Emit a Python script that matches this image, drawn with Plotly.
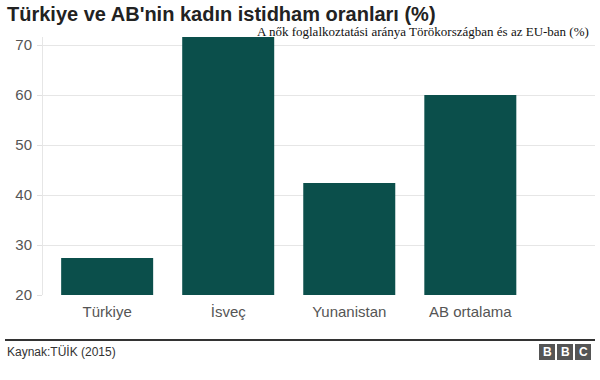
import plotly.graph_objects as go

categories = ["Türkiye", "İsveç", "Yunanistan", "AB ortalama"]
values = [27.4, 71.6, 42.4, 60.0]
y_ticks = [20, 30, 40, 50, 60, 70]

W, H = 600, 380
L, R, T, B = 43, 5, 37, 85
pw = W - L - R
ph = H - T - B

def px(x):
    return (x - L) / pw

def py(y):
    return (H - B - y) / ph

fig = go.Figure()
fig.add_trace(go.Bar(
    x=list(range(len(categories))), y=values,
    marker=dict(color="#0b4f4b", line=dict(width=0)),
    width=0.76, base=0,
))

fig.update_layout(
    width=W, height=H,
    margin=dict(l=L, r=R, t=T, b=B),
    paper_bgcolor="white", plot_bgcolor="white",
    showlegend=False,
    font=dict(family="Liberation Sans, Arial, sans-serif", color="#555"),
    bargap=0.24,
)
fig.update_xaxes(
    range=[-0.53, 4.03],
    tickvals=list(range(len(categories))), ticktext=categories,
    tickfont=dict(size=15, color="#555"),
    showgrid=False, zeroline=False, showline=False, ticks="",
    ticklabelstandoff=6,
)
fig.update_yaxes(
    range=[20, 71.6],
    tickvals=y_ticks,
    tickfont=dict(size=15, color="#555"),
    showgrid=True, gridcolor="#e6e6e6", gridwidth=1,
    zeroline=False,
    showline=True, linecolor="#e6e6e6", linewidth=1,
    ticks="outside", ticklen=5, tickcolor="#e0e0e0",
    ticklabelstandoff=2,
)

annotations = [
    dict(text="<b>Türkiye ve AB'nin kadın istidham oranları (%)</b>",
         x=px(5), y=py(14), xref="paper", yref="paper",
         xanchor="left", yanchor="middle", showarrow=False,
         font=dict(size=20, color="#222", family="Liberation Sans, Arial, sans-serif")),
    dict(text="A nők foglalkoztatási aránya Törökországban és az EU-ban (%)",
         x=px(591), y=py(32), xref="paper", yref="paper",
         xanchor="right", yanchor="middle", showarrow=False,
         font=dict(size=13, color="#111", family="Liberation Serif, Times New Roman, serif")),
    dict(text="Kaynak:TÜİK (2015)",
         x=px(5), y=py(352), xref="paper", yref="paper",
         xanchor="left", yanchor="middle", showarrow=False,
         font=dict(size=12, color="#333", family="Liberation Sans, Arial, sans-serif")),
]
shapes = [
    dict(type="line", xref="paper", yref="paper",
         x0=px(5), x1=px(595), y0=py(340), y1=py(340),
         line=dict(color="#333", width=2)),
]
for i, letter in enumerate(["B", "B", "C"]):
    x0 = 539 + i * 18
    shapes.append(dict(type="rect", xref="paper", yref="paper",
                       x0=px(x0), x1=px(x0 + 16), y0=py(360), y1=py(344),
                       fillcolor="#555", line=dict(width=0)))
    annotations.append(dict(text="<b>%s</b>" % letter,
                            x=px(x0 + 8), y=py(352), xref="paper", yref="paper",
                            xanchor="center", yanchor="middle", showarrow=False,
                            font=dict(size=12, color="white", family="Liberation Sans, Arial, sans-serif")))

fig.update_layout(annotations=annotations, shapes=shapes)
fig.write_html("out.html")
